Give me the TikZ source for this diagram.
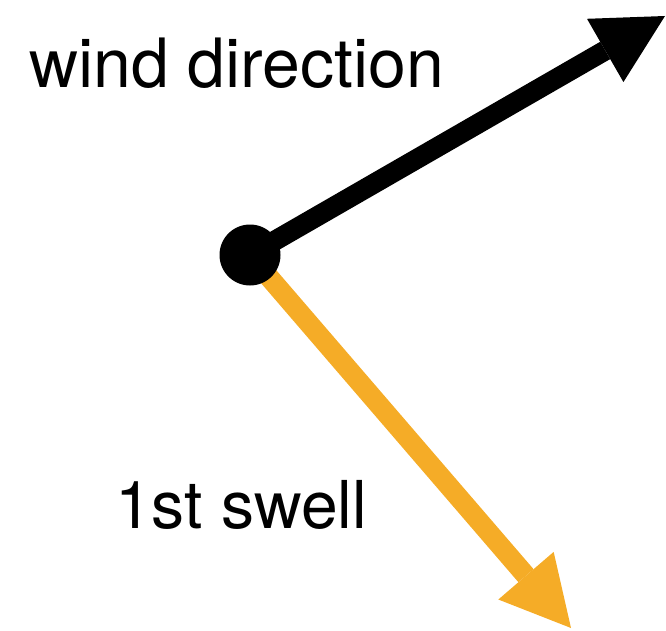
\documentclass[tikz,border=0pt]{standalone}
\usepackage{fontspec}
\setmainfont{TeX Gyre Heros}
\usetikzlibrary{arrows.meta}
\definecolor{swell}{HTML}{F5AC27}
\tikzset{
  vec/.style={line width=20pt,-{Triangle[length=69pt,width=73pt,line width=0pt]}},
  lbl/.style={anchor=base west,inner sep=0pt,outer sep=0pt}
}
\begin{document}
\begin{tikzpicture}[x=1pt,y=-1pt]
\useasboundingbox (0,0) rectangle (666,631);
\coordinate (c) at (250,255);
\coordinate (wt) at (665,16);
\coordinate (st) at (571,628);
\draw[vec,black] (c) -- (wt);
\draw[vec,swell] (c) -- (st);
\node[circle,fill=black,minimum size=61pt,inner sep=0pt] (dot) at (c) {};
\node[lbl,font=\fontsize{68}{80}\selectfont] (wind) at (29,88) {wind direction};
\node[lbl,font=\fontsize{66}{80}\selectfont] (swelllbl) at (115,528) {1st swell};
\end{tikzpicture}
\end{document}
